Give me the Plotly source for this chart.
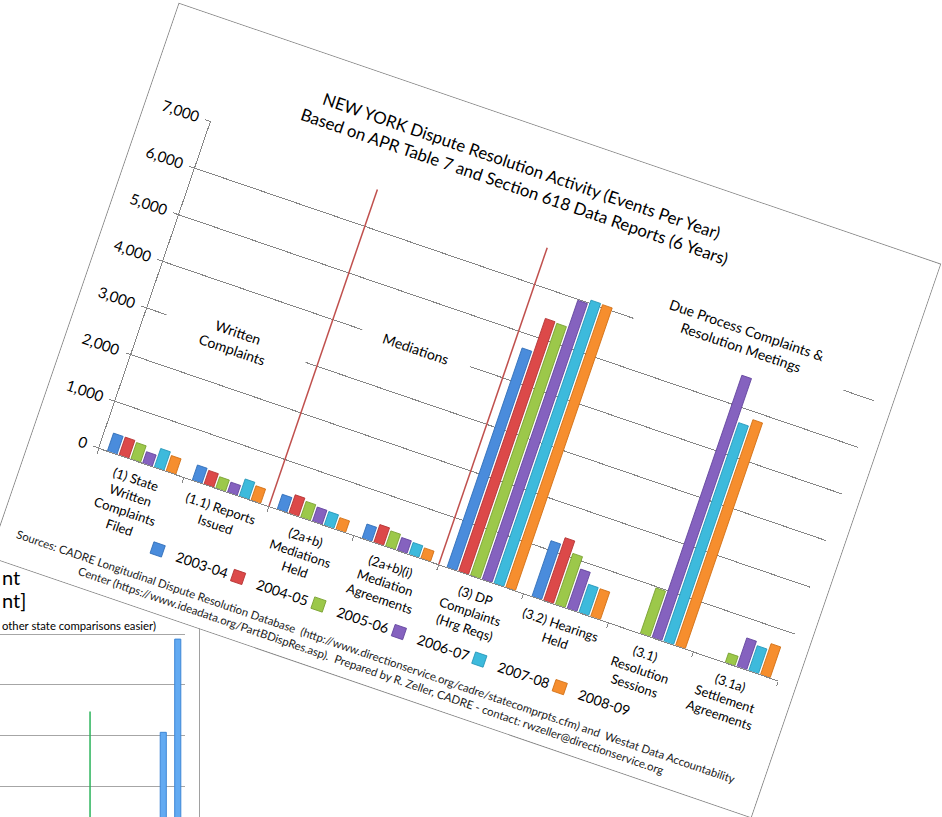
import json
import plotly.graph_objects as go
import plotly.io as pio

# ---------------- data (main chart) ----------------
categories = [
    "(1) State<br>Written<br>Complaints<br>Filed",
    "(1.1) Reports<br>Issued",
    "(2a+b)<br>Mediations<br>Held",
    "(2a+b)(i)<br>Mediation<br>Agreements",
    "(3) DP<br>Complaints<br>(Hrg Reqs)",
    "(3.2) Hearings<br>Held",
    "(3.1)<br>Resolution<br>Sessions",
    "(3.1a)<br>Settlement<br>Agreements",
]
years = ["2003-04", "2004-05", "2005-06", "2006-07", "2007-08", "2008-09"]
v_2003_04 = [380, 320, 315, 300, 4700, 1190, None, None]
v_2004_05 = [380, 290, 390, 375, 5420, 1340, None, None]
v_2005_06 = [350, 240, 335, 325, 5400, 1090, 975, 200]
v_2006_07 = [240, 210, 300, 270, 5980, 840, 5620, 610]
v_2007_08 = [395, 365, 290, 250, 6070, 600, 4690, 530]
v_2008_09 = [330, 305, 245, 220, 6060, 590, 4840, 660]
series = [v_2003_04, v_2004_05, v_2005_06, v_2006_07, v_2007_08, v_2008_09]
y_ticks = [0, 1000, 2000, 3000, 4000, 5000, 6000, 7000]

colors = ["#4a8cdc", "#dc4949", "#9cc84a", "#8562bf", "#3dbadc", "#f68e2e"]
edges = ["#2f6db8", "#b33232", "#78a030", "#62439c", "#2496b8", "#d06e12"]

title_text = ("NEW YORK Dispute Resolution Activity (Events Per Year)<br>"
              "Based on APR Table 7 and Section 618 Data Reports (6 Years)")
source_text = ("Sources: CADRE Longitudinal Dispute Resolution Database  "
               "(http://www.directionservice.org/cadre/statecomprpts.cfm) and  Westat Data Accountability<br>"
               "Center (https://www.ideadata.org/PartBDispRes.asp).  Prepared by R. Zeller, CADRE - contact: "
               "rwzeller@directionservice.org")

FONT = "Lato, 'Open Sans', sans-serif"

fig = go.Figure()
for name, vals, c, e in zip(years, series, colors, edges):
    fig.add_trace(go.Bar(x=categories, y=vals, name=name,
                         marker=dict(color=c, line=dict(color=e, width=0.8))))

fig.update_layout(
    width=804, height=584,
    margin=dict(l=68, r=18, t=101, b=138),
    paper_bgcolor="white", plot_bgcolor="white",
    font=dict(family=FONT, color="#000000", size=13),
    barmode="group", bargap=0.17, bargroupgap=0.18,
    title=dict(text=title_text, x=0.468, xref="container", xanchor="center",
               y=0.917, yref="container", yanchor="middle",
               font=dict(family=FONT, size=16.8, color="#000000")),
    showlegend=True,
    legend=dict(orientation="h", x=0.095, xanchor="left", y=-0.2245, yanchor="middle",
                font=dict(family=FONT, size=14, color="#000000"),
                entrywidth=40, entrywidthmode="pixels", itemwidth=30,
                bgcolor="rgba(0,0,0,0)"),
)
fig.update_xaxes(type="category", showline=True, linecolor="#868686", linewidth=1,
                 ticks="outside", tickson="boundaries", ticklen=5, tickcolor="#868686",
                 showgrid=False, tickfont=dict(family=FONT, size=13, color="#000000"),
                 tickangle=0, ticklabelstandoff=6)
fig.update_yaxes(range=[0, 7000], tickvals=y_ticks, tickformat=",d", showline=True,
                 linecolor="#868686", linewidth=1, ticks="outside", ticklen=5,
                 tickcolor="#868686", showgrid=True, gridcolor="#868686", gridwidth=1,
                 zeroline=False, ticklabelstandoff=4,
                 tickfont=dict(family=FONT, size=15, color="#000000"))

# red separators between groups
for xb in [1.5, 3.5]:
    fig.add_shape(type="line", xref="x", yref="y", x0=xb, x1=xb, y0=-950, y1=6790,
                  line=dict(color="#c0504d", width=1.5))

# group labels (white text boxes that interrupt gridlines)
group_labels = [
    ("Written<br>Complaints", 0.552, 2956, 142),
    ("Mediations", 2.486, 3993, 109),
    ("Due Process Complaints &amp;<br>Resolution Meetings", 5.906, 6342, 217),
]
for txt, gx, gy, w in group_labels:
    fig.add_annotation(text=txt, x=gx, y=gy, xref="x", yref="y", showarrow=False,
                       bgcolor="white", width=w, borderpad=2, align="center",
                       font=dict(family=FONT, size=14, color="#000000"))

fig.add_annotation(text=source_text, x=0.4596, y=-0.333, xref="paper", yref="paper",
                   showarrow=False, align="center", xanchor="center", yanchor="middle",
                   font=dict(family=FONT, size=11.4, color="#1a1a1a"))

# ---------------- data (partly hidden chart behind) ----------------
bg_x = [11, 12]
bg_values = [40.6, 59.0]
bg_ticks = [0, 10, 20, 30, 40, 50, 60]
bg = go.Figure(go.Bar(x=bg_x, y=bg_values, width=0.42,
                      marker=dict(color="#62aaf2", line=dict(color="#3d86d6", width=1))))
bg.update_layout(width=199, height=400, margin=dict(l=0, r=14, t=91, b=2),
                 paper_bgcolor="white", plot_bgcolor="white", showlegend=False,
                 font=dict(family=FONT, color="#000000"))
bg.update_xaxes(range=[-0.26, 12.5], visible=False)
bg.update_yaxes(range=[0, 60.6], tickvals=bg_ticks, showticklabels=False, showgrid=True,
                gridcolor="#a6a6a6", gridwidth=1, zeroline=False)
bg.add_shape(type="line", xref="x", yref="y", x0=5.95, x1=5.95, y0=0, y1=44.7,
             line=dict(color="#2bb35b", width=1.5))
bg.add_annotation(text="nt", x=0, y=1.176, xref="paper", yref="paper", xanchor="left",
                  yanchor="middle", showarrow=False, font=dict(family=FONT, size=20))
bg.add_annotation(text="nt]", x=0, y=1.101, xref="paper", yref="paper", xanchor="left",
                  yanchor="middle", showarrow=False, font=dict(family=FONT, size=20))
bg.add_annotation(text="other state comparisons easier)", x=0, y=1.0195, xref="paper",
                  yref="paper", xanchor="left", yanchor="middle", showarrow=False,
                  font=dict(family=FONT, size=11.3))
bg_json = pio.to_json(bg)

# rotation of the main chart as it appears in the picture
ang_cos, ang_sin = 0.94609, 0.32392
tx, ty = 179.3, 4.0

post = """
document.documentElement.style.overflow='hidden';
document.body.style.margin='0';
document.body.style.overflow='hidden';
var gd = document.getElementById('{plot_id}');
gd.style.position='absolute'; gd.style.left='0px'; gd.style.top='0px'; gd.style.zIndex='2';
gd.style.transformOrigin='0 0';
gd.style.transform='matrix(%f,%f,%f,%f,%f,%f)';
gd.style.outline='1px solid #8a8a8a';
var sbs = gd.querySelectorAll('.legend .scrollbox, .legend');
for (var i = 0; i < sbs.length; i++) { sbs[i].removeAttribute('clip-path'); sbs[i].style.clipPath = 'none'; }
var bgd = document.createElement('div');
bgd.style.position='absolute'; bgd.style.left='0px'; bgd.style.top='540px';
bgd.style.width='199px'; bgd.style.height='400px'; bgd.style.zIndex='1';
bgd.style.borderRight='1px solid #a0a0a0';
document.body.appendChild(bgd);
var bgFig = %s;
Plotly.newPlot(bgd, bgFig.data, bgFig.layout, {staticPlot:true, displayModeBar:false});
""" % (ang_cos, ang_sin, -ang_sin, ang_cos, tx, ty, bg_json)

fig.write_html("out.html", config={"displayModeBar": False}, post_script=post)
